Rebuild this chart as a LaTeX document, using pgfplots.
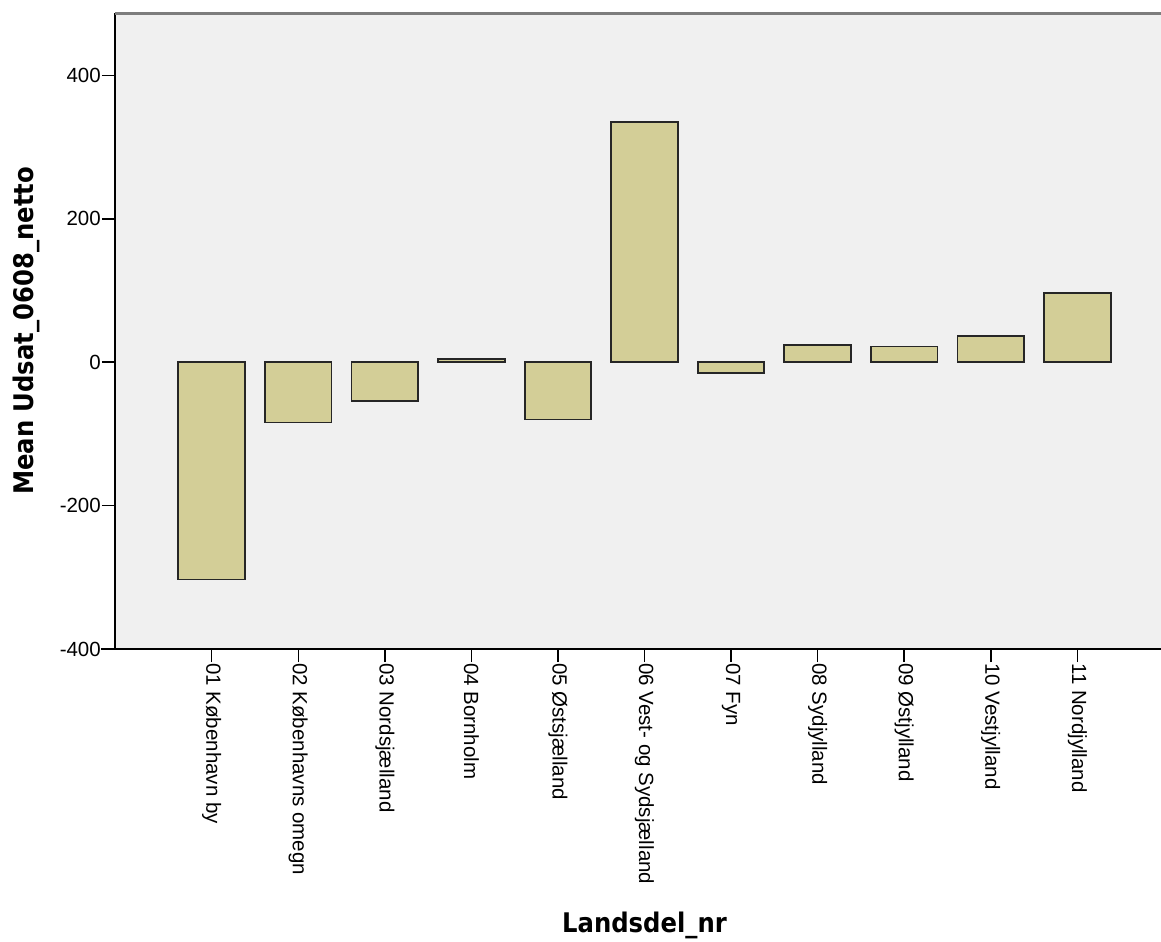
\documentclass[border=0pt]{standalone}
\usepackage{pgfplots}
\pgfplotsset{compat=1.18}
\usepackage{fontspec}
\setmainfont{Liberation Sans}
\newfontfamily\labfont{DejaVu Sans Condensed}
\definecolor{barfill}{RGB}{211,206,151}
\definecolor{plotbg}{RGB}{240,240,240}
\definecolor{topline}{RGB}{125,125,125}
\begin{document}
\begin{tikzpicture}
\path[use as bounding box] (-115bp,-293bp) rectangle (1046bp,649bp);
\clip (-115bp,-293bp) rectangle (1046bp,649bp);
\begin{axis}[
  at={(0,0)}, anchor=south west,
  scale only axis, width=1059bp, height=636bp,
  xmin=-1.117, xmax=11.117, ymin=-400, ymax=487,
  axis background/.style={fill=plotbg},
  axis x line*=bottom, axis y line*=left,
  axis line style={-, black, line width=2bp},
  xtick={0,...,10},
  xticklabels={01 København by, 02 Københavns omegn, 03 Nordsjælland, 04 Bornholm, 05 Østsjælland, 06 Vest- og Sydsjælland, 07 Fyn, 08 Sydjylland, 09 Østjylland, 10 Vestjylland, 11 Nordjylland},
  ytick={-400,-200,0,200,400},
  yticklabels={-400,-200,0,200,400},
  tick align=outside, major tick length=13bp,
  tick style={black, line width=1.5bp},
  x tick label style={rotate=-90, anchor=west, inner sep=1bp, font=\fontsize{20.5bp}{24bp}\selectfont},
  y tick label style={anchor=east, inner sep=1bp, font=\fontsize{20.5bp}{24bp}\selectfont},
  xlabel={Landsdel\_nr},
  xlabel style={at={(axis description cs:0.5,-0.4465)}, anchor=base, font=\labfont\bfseries\fontsize{27bp}{30bp}\selectfont},
  ylabel={Mean Udsat\_0608\_netto},
  ylabel style={at={(axis description cs:-0.084,0.5)}, anchor=center, font=\labfont\bfseries\fontsize{27bp}{30bp}\selectfont},
]
\addplot[ybar, bar width=0.77, fill=barfill, draw=black!85, line width=1.8bp]
  coordinates {(0,-303) (1,-84) (2,-54) (3,5) (4,-80) (5,335) (6,-15) (7,24) (8,22) (9,36) (10,96)};
\draw[topline, line width=3.5bp] (rel axis cs:0,1) -- (rel axis cs:1,1);
\end{axis}
\draw[black, line width=2bp] (-14bp,0) -- (0,0);
\end{tikzpicture}
\end{document}
